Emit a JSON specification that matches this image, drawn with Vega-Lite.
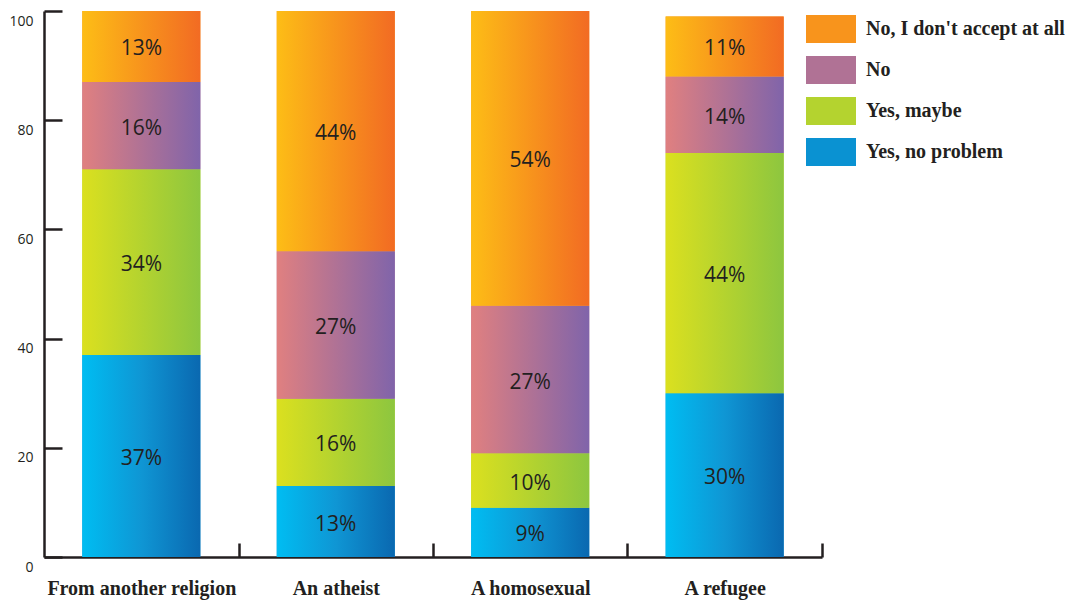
{
  "$schema": "https://vega.github.io/schema/vega-lite/v6.json",
  "width": 778,
  "height": 546,
  "autosize": "none",
  "padding": {"left": 44, "top": 11, "right": 245, "bottom": 45},
  "background": "white",
  "config": {"view": {"stroke": null}},
  "data": {
    "values": [
      {"category": "From another religion", "answer": "Yes, no problem", "order": 1, "value": 37, "label": "37%"},
      {"category": "From another religion", "answer": "Yes, maybe", "order": 2, "value": 34, "label": "34%"},
      {"category": "From another religion", "answer": "No", "order": 3, "value": 16, "label": "16%"},
      {"category": "From another religion", "answer": "No, I don't accept at all", "order": 4, "value": 13, "label": "13%"},
      {"category": "An atheist", "answer": "Yes, no problem", "order": 1, "value": 13, "label": "13%"},
      {"category": "An atheist", "answer": "Yes, maybe", "order": 2, "value": 16, "label": "16%"},
      {"category": "An atheist", "answer": "No", "order": 3, "value": 27, "label": "27%"},
      {"category": "An atheist", "answer": "No, I don't accept at all", "order": 4, "value": 44, "label": "44%"},
      {"category": "A homosexual", "answer": "Yes, no problem", "order": 1, "value": 9, "label": "9%"},
      {"category": "A homosexual", "answer": "Yes, maybe", "order": 2, "value": 10, "label": "10%"},
      {"category": "A homosexual", "answer": "No", "order": 3, "value": 27, "label": "27%"},
      {"category": "A homosexual", "answer": "No, I don't accept at all", "order": 4, "value": 54, "label": "54%"},
      {"category": "A refugee", "answer": "Yes, no problem", "order": 1, "value": 30, "label": "30%"},
      {"category": "A refugee", "answer": "Yes, maybe", "order": 2, "value": 44, "label": "44%"},
      {"category": "A refugee", "answer": "No", "order": 3, "value": 14, "label": "14%"},
      {"category": "A refugee", "answer": "No, I don't accept at all", "order": 4, "value": 11, "label": "11%"}
    ]
  },
  "transform": [
    {"stack": "value", "groupby": ["category"], "sort": [{"field": "order", "order": "ascending"}], "as": ["v0", "v1"]}
  ],
  "encoding": {
    "x": {
      "field": "category",
      "type": "nominal",
      "sort": ["From another religion", "An atheist", "A homosexual", "A refugee"],
      "scale": {"paddingInner": 0.393, "paddingOuter": 0.197},
      "axis": {
        "title": null,
        "labelAngle": 0,
        "bandPosition": 0.5,
        "tickOffset": 97.25,
        "labelOffset": -97.25,
        "domainColor": "#231f20",
        "domainWidth": 2.5,
        "tickColor": "#231f20",
        "tickWidth": 2.5,
        "tickSize": -14,
        "labelPadding": 35,
        "labelFont": "Liberation Serif",
        "labelFontWeight": "bold",
        "labelFontSize": 20,
        "labelColor": "#231f20",
        "labelLimit": 400
      }
    },
    "y": {
      "field": "v0",
      "type": "quantitative",
      "scale": {"domain": [0, 100], "nice": false},
      "axis": {
        "title": null,
        "grid": false,
        "values": [0, 20, 40, 60, 80, 100],
        "domainColor": "#231f20",
        "domainWidth": 2.5,
        "tickColor": "#231f20",
        "tickWidth": 2.5,
        "tickSize": -18,
        "labelPadding": 29,
        "labelOffset": 10,
        "labelFont": "Open Sans",
        "labelFontSize": 14,
        "labelColor": "#231f20"
      }
    }
  },
  "layer": [
    {
      "mark": {"type": "bar"},
      "encoding": {
        "y2": {"field": "v1"},
        "color": {
          "field": "answer",
          "type": "nominal",
          "scale": {
            "domain": ["No, I don't accept at all", "No", "Yes, maybe", "Yes, no problem"],
            "range": ["#f8941c", "#b07295", "#b4d32f", "#0a92d2"]
          },
          "legend": {
            "orient": "none",
            "legendX": 762,
            "legendY": -7,
            "title": null,
            "symbolType": "M-1,-0.56H1V0.56H-1Z",
            "symbolSize": 2500,
            "symbolStrokeWidth": 0,
            "symbolOpacity": 1,
            "labelFont": "Liberation Serif",
            "labelFontWeight": "bold",
            "labelFontSize": 20,
            "labelColor": "#231f20",
            "labelOffset": 10,
            "labelLimit": 400,
            "rowPadding": 2
          }
        }
      }
    },
    {
      "mark": {"type": "bar"},
      "encoding": {
        "y2": {"field": "v1"},
        "color": {
          "condition": [
            {"test": "datum.answer === 'No, I don\\'t accept at all'", "value": {"gradient": "linear", "x1": 0, "y1": 0, "x2": 1, "y2": 0, "stops": [{"offset": 0, "color": "#fdbd16"}, {"offset": 1, "color": "#f26b23"}]}},
            {"test": "datum.answer === 'No'", "value": {"gradient": "linear", "x1": 0, "y1": 0, "x2": 1, "y2": 0, "stops": [{"offset": 0, "color": "#e08080"}, {"offset": 1, "color": "#8064aa"}]}},
            {"test": "datum.answer === 'Yes, maybe'", "value": {"gradient": "linear", "x1": 0, "y1": 0, "x2": 1, "y2": 0, "stops": [{"offset": 0, "color": "#dbe01f"}, {"offset": 1, "color": "#8dc63f"}]}}
          ],
          "value": {"gradient": "linear", "x1": 0, "y1": 0, "x2": 1, "y2": 0, "stops": [{"offset": 0, "color": "#00bdf2"}, {"offset": 0.5, "color": "#0f96d4"}, {"offset": 1, "color": "#0a68b0"}]}
        }
      }
    },
    {
      "transform": [
        {"fold": ["v0", "v1"], "as": ["edge", "pos"]},
        {"aggregate": [{"op": "mean", "field": "pos", "as": "mid"}], "groupby": ["category", "answer", "label"]}
      ],
      "mark": {"type": "text", "font": "Open Sans", "fontSize": 21, "color": "#231f20", "baseline": "middle", "align": "center", "dy": 3},
      "encoding": {
        "y": {"field": "mid", "type": "quantitative"},
        "text": {"field": "label"}
      }
    }
  ]
}
